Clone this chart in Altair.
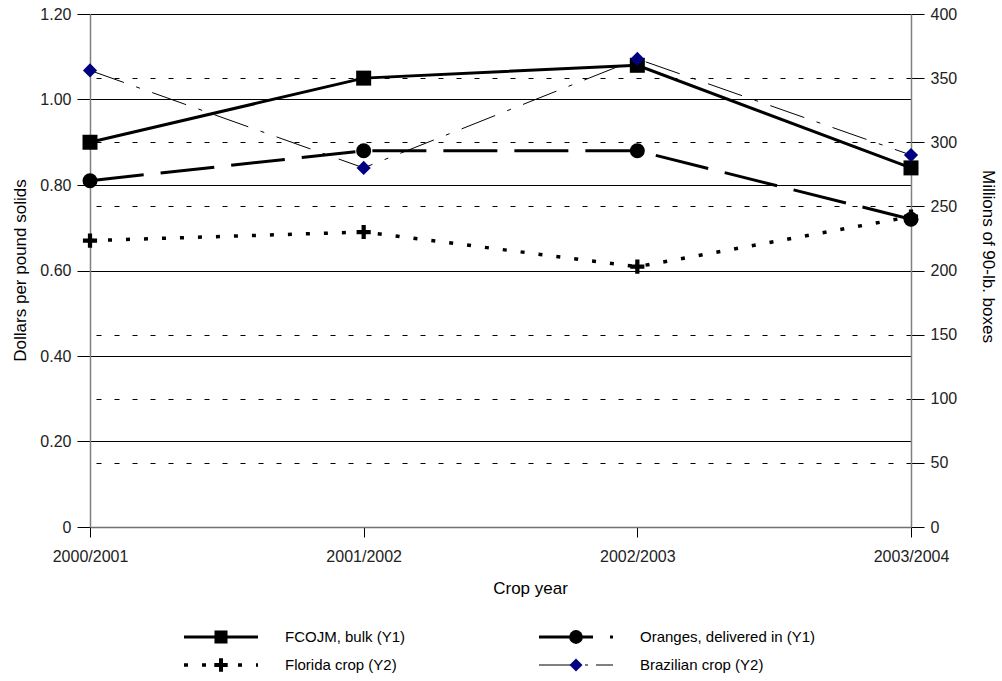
import altair as alt
import pandas as pd

# Crop years and series values
years = ["2000/2001", "2001/2002", "2002/2003", "2003/2004"]
fcojm_bulk = [0.90, 1.05, 1.08, 0.84]          # dollars per pound solids (Y1)
oranges_delivered = [0.81, 0.88, 0.88, 0.72]   # dollars per pound solids (Y1)
florida_crop = [223.3, 230.0, 203.0, 242.0]    # million 90-lb boxes (Y2)
brazil_crop = [356, 280, 365, 290]             # million 90-lb boxes (Y2)

series_names = [
    "FCOJM, bulk (Y1)",
    "Oranges, delivered in (Y1)",
    "Florida crop (Y2)",
    "Brazilian crop (Y2)",
]

y1_ticks = [0, 0.2, 0.4, 0.6, 0.8, 1.0, 1.2]
y2_ticks = [0, 50, 100, 150, 200, 250, 300, 350, 400]

FONT = "Liberation Sans"
NAVY = "#000080"
PLUS = "M-0.3,-1H0.3V-0.3H1V0.3H0.3V1H-0.3V0.3H-1V-0.3H-0.3Z"

W, H = 821, 513


def frame(values):
    return pd.DataFrame({"year": years, "value": values})


x_enc = alt.X(
    "year:N",
    sort=years,
    scale=alt.Scale(type="point", domain=years, padding=0),
    axis=alt.Axis(
        title="Crop year",
        labelAngle=0,
        labelFontSize=16,
        labelPadding=11,
        tickSize=10,
        tickColor="black",
        domainColor="#707070",
        domainWidth=1.5,
        grid=False,
        titleX=440,
        titleY=53,
        titleFontSize=17,
    ),
)

y1_axis = alt.Axis(
    orient="left",
    values=y1_ticks,
    labelExpr="datum.value == 0 ? '0' : format(datum.value, '.2f')",
    title="Dollars per pound solids",
    titleAngle=270,
    titleBaseline="bottom",
    titleX=-61,
    titleY=256,
    titleFontSize=17,
    labelFontSize=16,
    labelPadding=6,
    tickSize=13,
    tickColor="black",
    domainColor="#808080",
    domainWidth=1.5,
    grid=True,
    gridColor="black",
    gridWidth=1,
)

y2_axis = alt.Axis(
    orient="right",
    values=y2_ticks,
    format="d",
    title="Millions of 90-lb. boxes",
    titleAngle=90,
    titleBaseline="bottom",
    titleX=67,
    titleY=242,
    titleFontSize=17,
    labelFontSize=16,
    labelPadding=6,
    tickSize=13,
    tickColor="black",
    domainColor="#808080",
    domainWidth=1.5,
    grid=True,
    gridColor="black",
    gridWidth=1,
    gridDash=[5, 13],
)

y1 = alt.Y("value:Q", scale=alt.Scale(domain=[0, 1.2], nice=False, zero=True), axis=y1_axis)
y2_hidden = alt.Y("value:Q", scale=alt.Scale(domain=[0, 400], nice=False, zero=True), axis=None)
y2 = alt.Y("value:Q", scale=alt.Scale(domain=[0, 400], nice=False, zero=True), axis=y2_axis)


def series_layer(values, y_enc, line_style, point_style):
    base = alt.Chart(frame(values)).encode(x=x_enc, y=y_enc)
    line = base.mark_line(**line_style)
    pts = base.mark_point(filled=True, opacity=1, strokeWidth=0, **point_style)
    return line + pts


fcojm_style = dict(color="black", strokeWidth=3)
oranges_style = dict(color="black", strokeWidth=3, strokeDash=[54, 17])
florida_style = dict(color="black", strokeWidth=3.5, strokeDash=[4, 14])
brazil_style = dict(color="black", strokeWidth=1, strokeDash=[36, 13, 4, 13])

fcojm_pt = dict(shape="square", size=225, fill="black")
oranges_pt = dict(shape="circle", size=225, fill="black")
florida_pt = dict(shape=PLUS, size=200, fill="black")
brazil_pt = dict(shape="diamond", size=200, fill=NAVY)

florida = series_layer(florida_crop, y2_hidden, florida_style, florida_pt)
left = alt.layer(
    series_layer(fcojm_bulk, y1, fcojm_style, fcojm_pt),
    series_layer(oranges_delivered, y1, oranges_style, oranges_pt),
)
brazil = series_layer(brazil_crop, y2, brazil_style, brazil_pt)

# Legend below the plot: two columns, two rows
legend_cols = [(94, 168, 131, 195), (449, 523, 486, 550)]
legend_rows = [623, 651]
legend_styles = [
    (fcojm_style, dict(shape="square", size=170, fill="black")),
    (oranges_style, dict(shape="circle", size=190, fill="black")),
    (florida_style, dict(shape=PLUS, size=180, fill="black")),
    (dict(color="black", strokeWidth=1, strokeDash=[38, 8, 3, 8]), dict(shape="diamond", size=170, fill=NAVY)),
]
one = pd.DataFrame({"k": [0]})
legend_layers = []
for i, name in enumerate(series_names):
    x0, x1, xm, xt = legend_cols[i % 2]
    yy = legend_rows[i // 2]
    ls, ps = legend_styles[i]
    rule_style = {k: v for k, v in ls.items() if k != "color"}
    legend_layers.append(
        alt.Chart(one).mark_rule(color="black", **rule_style).encode(
            x=alt.value(x0), x2=alt.value(x1), y=alt.value(yy)
        )
    )
    legend_layers.append(
        alt.Chart(one).mark_point(filled=True, opacity=1, strokeWidth=0, **ps).encode(
            x=alt.value(xm), y=alt.value(yy)
        )
    )
    legend_layers.append(
        alt.Chart(one).mark_text(
            text=name, align="left", baseline="middle", font=FONT, fontSize=15, color="black"
        ).encode(x=alt.value(xt), y=alt.value(yy))
    )

chart = (
    alt.layer(florida, left, brazil, *legend_layers)
    .resolve_scale(y="independent")
    .properties(
        width=W,
        height=H,
        autosize=alt.AutoSizeParams(type="none"),
        padding={"left": 90, "top": 14, "right": 91, "bottom": 154},
        background="white",
    )
    .configure_view(stroke=None)
    .configure_axis(
        labelFont=FONT,
        titleFont=FONT,
        labelColor="#222222",
        titleColor="black",
        titleFontWeight="normal",
        labelOverlap=False,
    )
)

chart.save("out.html", embed_options={"renderer": "svg", "actions": False})
